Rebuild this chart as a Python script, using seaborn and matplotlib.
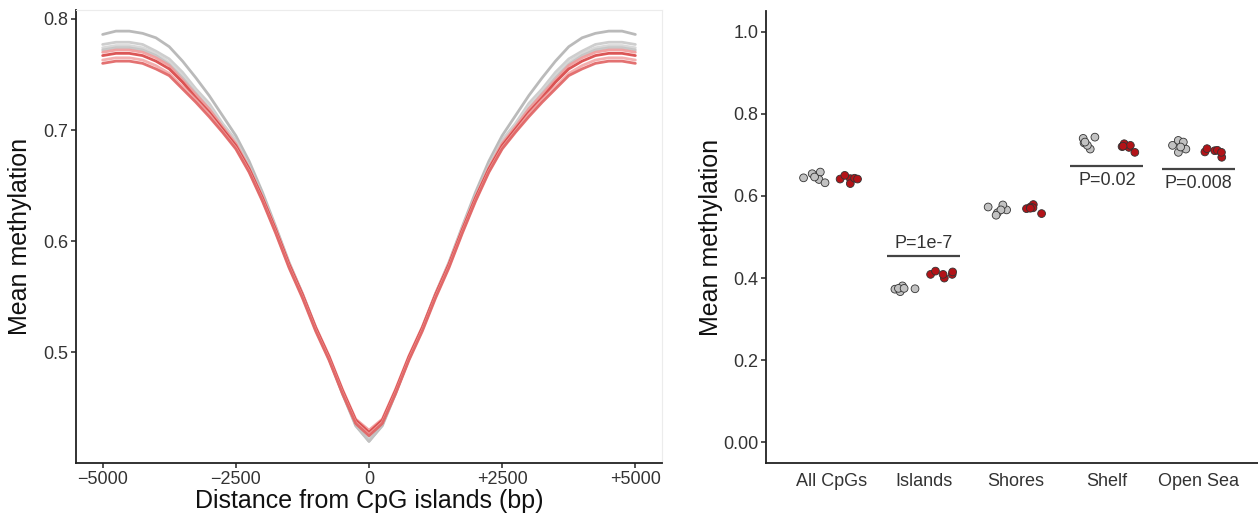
import matplotlib
matplotlib.use("Agg")
import matplotlib.pyplot as plt
import seaborn as sns
import pandas as pd
import numpy as np

sns.set_theme(style="white")
plt.rcParams["font.family"] = ["Liberation Sans", "DejaVu Sans"]

# ---------------- left panel data: methylation profiles around CpG islands ----------------
positions = [-5000, -4750, -4500, -4250, -4000, -3750, -3500, -3250, -3000, -2750, -2500,
             -2250, -2000, -1750, -1500, -1250, -1000, -750, -500, -250, 0,
             250, 500, 750, 1000, 1250, 1500, 1750, 2000, 2250, 2500,
             2750, 3000, 3250, 3500, 3750, 4000, 4250, 4500, 4750, 5000]

ctrl_1 = [0.786, 0.789, 0.789, 0.787, 0.783, 0.775, 0.762, 0.747, 0.731, 0.713, 0.695,
          0.672, 0.644, 0.613, 0.581, 0.553, 0.522, 0.495, 0.463, 0.434, 0.420,
          0.434, 0.463, 0.495, 0.522, 0.553, 0.581, 0.613, 0.644, 0.672, 0.695,
          0.713, 0.731, 0.747, 0.762, 0.775, 0.783, 0.787, 0.789, 0.789, 0.786]
ctrl_2 = [0.777, 0.779, 0.779, 0.777, 0.771, 0.764, 0.752, 0.737, 0.724, 0.706, 0.691,
          0.667, 0.641, 0.612, 0.579, 0.552, 0.522, 0.495, 0.465, 0.436, 0.423,
          0.436, 0.465, 0.495, 0.522, 0.552, 0.579, 0.612, 0.641, 0.667, 0.691,
          0.706, 0.724, 0.737, 0.752, 0.764, 0.771, 0.777, 0.779, 0.779, 0.777]
ctrl_3 = [0.774, 0.776, 0.776, 0.774, 0.769, 0.761, 0.749, 0.735, 0.721, 0.705, 0.689,
          0.667, 0.640, 0.611, 0.579, 0.552, 0.521, 0.495, 0.464, 0.436, 0.422,
          0.436, 0.464, 0.495, 0.521, 0.552, 0.579, 0.611, 0.640, 0.667, 0.689,
          0.705, 0.721, 0.735, 0.749, 0.761, 0.769, 0.774, 0.776, 0.776, 0.774]
ctrl_4 = [0.772, 0.774, 0.774, 0.772, 0.767, 0.759, 0.747, 0.733, 0.719, 0.703, 0.687,
          0.666, 0.639, 0.610, 0.578, 0.551, 0.521, 0.494, 0.464, 0.435, 0.420,
          0.435, 0.464, 0.494, 0.521, 0.551, 0.578, 0.610, 0.639, 0.666, 0.687,
          0.703, 0.719, 0.733, 0.747, 0.759, 0.767, 0.772, 0.774, 0.774, 0.772]
case_1 = [0.770, 0.772, 0.772, 0.770, 0.765, 0.758, 0.745, 0.732, 0.719, 0.703, 0.688,
          0.666, 0.640, 0.611, 0.580, 0.553, 0.523, 0.497, 0.467, 0.440, 0.430,
          0.440, 0.467, 0.497, 0.523, 0.553, 0.580, 0.611, 0.640, 0.666, 0.688,
          0.703, 0.719, 0.732, 0.745, 0.758, 0.765, 0.770, 0.772, 0.772, 0.770]
case_2 = [0.767, 0.769, 0.769, 0.767, 0.762, 0.755, 0.743, 0.729, 0.716, 0.701, 0.686,
          0.665, 0.639, 0.610, 0.579, 0.552, 0.522, 0.496, 0.466, 0.439, 0.428,
          0.439, 0.466, 0.496, 0.522, 0.552, 0.579, 0.610, 0.639, 0.665, 0.686,
          0.701, 0.716, 0.729, 0.743, 0.755, 0.762, 0.767, 0.769, 0.769, 0.767]
case_3 = [0.763, 0.765, 0.765, 0.763, 0.758, 0.751, 0.739, 0.727, 0.714, 0.699, 0.684,
          0.663, 0.637, 0.608, 0.577, 0.550, 0.520, 0.494, 0.464, 0.437, 0.426,
          0.437, 0.464, 0.494, 0.520, 0.550, 0.577, 0.608, 0.637, 0.663, 0.684,
          0.699, 0.714, 0.727, 0.739, 0.751, 0.758, 0.763, 0.765, 0.765, 0.763]
case_4 = [0.760, 0.762, 0.762, 0.760, 0.755, 0.749, 0.737, 0.725, 0.712, 0.698, 0.683,
          0.662, 0.636, 0.607, 0.576, 0.549, 0.519, 0.493, 0.463, 0.436, 0.425,
          0.436, 0.463, 0.493, 0.519, 0.549, 0.576, 0.607, 0.636, 0.662, 0.683,
          0.698, 0.712, 0.725, 0.737, 0.749, 0.755, 0.760, 0.762, 0.762, 0.760]

x_tick_values = [-5000, -2500, 0, 2500, 5000]
x_tick_labels = ["\u22125000", "\u22122500", "0", "+2500", "+5000"]
y_tick_values_left = [0.5, 0.6, 0.7, 0.8]

# ---------------- right panel data: mean methylation per region ----------------
regions = ["All CpGs", "Islands", "Shores", "Shelf", "Open Sea"]
ctrl_all = [0.644, 0.658, 0.654, 0.640, 0.632, 0.646]
case_all = [0.642, 0.641, 0.650, 0.630, 0.643, 0.641]
ctrl_islands = [0.381, 0.373, 0.367, 0.374, 0.375, 0.375]
case_islands = [0.409, 0.409, 0.400, 0.415, 0.417, 0.409]
ctrl_shores = [0.566, 0.573, 0.559, 0.578, 0.566, 0.553]
case_shores = [0.569, 0.579, 0.573, 0.571, 0.570, 0.557]
ctrl_shelf = [0.743, 0.729, 0.714, 0.740, 0.723, 0.731]
case_shelf = [0.718, 0.720, 0.727, 0.723, 0.721, 0.706]
ctrl_opensea = [0.723, 0.714, 0.735, 0.706, 0.731, 0.719]
case_opensea = [0.710, 0.707, 0.715, 0.694, 0.711, 0.706]

pval_regions = ["Islands", "Shelf", "Open Sea"]
pval_labels = ["P=1e-7", "P=0.02", "P=0.008"]
pval_line_y = [0.454, 0.673, 0.665]
pval_text_y = [0.483, 0.638, 0.629]

y_tick_values_right = [0.0, 0.2, 0.4, 0.6, 0.8, 1.0]
y_tick_labels_right = ["0.00", "0.2", "0.4", "0.6", "0.8", "1.0"]

# ---------------- build tidy frames ----------------
line_series = {"ctrl_1": ctrl_1, "ctrl_2": ctrl_2, "ctrl_3": ctrl_3, "ctrl_4": ctrl_4,
               "case_1": case_1, "case_2": case_2, "case_3": case_3, "case_4": case_4}
rows = []
for name, vals in line_series.items():
    for p, v in zip(positions, vals):
        rows.append({"pos": p, "meth": v, "sample": name})
df_lines = pd.DataFrame(rows)

line_colors = {"ctrl_1": "#b3b3b3", "ctrl_2": "#c9c9c9", "ctrl_3": "#d4d4d4", "ctrl_4": "#c2c2c2",
               "case_1": "#f09a9a", "case_2": "#d84444", "case_3": "#f2a8a8", "case_4": "#e06262"}

point_sets = {
    ("All CpGs", "ctrl"): ctrl_all, ("All CpGs", "case"): case_all,
    ("Islands", "ctrl"): ctrl_islands, ("Islands", "case"): case_islands,
    ("Shores", "ctrl"): ctrl_shores, ("Shores", "case"): case_shores,
    ("Shelf", "ctrl"): ctrl_shelf, ("Shelf", "case"): case_shelf,
    ("Open Sea", "ctrl"): ctrl_opensea, ("Open Sea", "case"): case_opensea,
}
prow = []
for (reg, grp), vals in point_sets.items():
    for v in vals:
        prow.append({"region": reg, "group": grp, "meth": v})
df_pts = pd.DataFrame(prow)

# ---------------- figure ----------------
W, H = 1258, 518
fig = plt.figure(figsize=(W / 100, H / 100), dpi=100)
ax1 = fig.add_axes([76 / W, (H - 463) / H, (662 - 76) / W, (463 - 10) / H])
ax2 = fig.add_axes([766 / W, (H - 463) / H, (1258 - 766) / W, (463 - 11) / H])

tick_color = "#333333"

# left panel
sns.lineplot(data=df_lines, x="pos", y="meth", hue="sample", palette=line_colors,
             hue_order=["ctrl_1", "ctrl_2", "ctrl_3", "ctrl_4", "case_1", "case_2", "case_3", "case_4"],
             estimator=None, legend=False, linewidth=2.0, alpha=0.9, ax=ax1)
ax1.set_xlim(-5500, 5500)
ax1.set_ylim(0.4005, 0.808)
ax1.set_xticks(x_tick_values)
ax1.set_xticklabels(x_tick_labels)
ax1.set_yticks(y_tick_values_left)
ax1.set_yticklabels([f"{v:.1f}" for v in y_tick_values_left])
ax1.set_xlabel("Distance from CpG islands (bp)", fontsize=18, color="#111111", labelpad=1)
ax1.set_ylabel("Mean methylation", fontsize=18, color="#111111", labelpad=8)
for s in ["left", "bottom"]:
    ax1.spines[s].set_color("#222222")
    ax1.spines[s].set_linewidth(1.3)
for s in ["top", "right"]:
    ax1.spines[s].set_color("#ececec")
    ax1.spines[s].set_linewidth(0.8)
ax1.tick_params(axis="both", which="both", direction="out", length=3.5, width=1.1,
                color="#222222", labelsize=13, labelcolor=tick_color, pad=2,
                bottom=True, left=True)

# right panel: dodged strip plot with a fixed horizontal jitter
np.random.seed(7)
sns.stripplot(data=df_pts, x="region", y="meth", hue="group", order=regions,
              hue_order=["ctrl", "case"], dodge=True, jitter=0.26,
              palette={"ctrl": "#c2c2c2", "case": "#b31318"},
              size=5.6, edgecolor="#333333", linewidth=0.6, legend=False, ax=ax2)
ax2.set_ylim(-0.05, 1.05)
ax2.set_xlim(-0.72, 4.65)
ax2.set_yticks(y_tick_values_right)
ax2.set_yticklabels(y_tick_labels_right)
ax2.set_xlabel("")
ax2.set_ylabel("Mean methylation", fontsize=18, color="#111111", labelpad=0)
for s in ["top", "right"]:
    ax2.spines[s].set_visible(False)
for s in ["left", "bottom"]:
    ax2.spines[s].set_color("#222222")
    ax2.spines[s].set_linewidth(1.3)
ax2.tick_params(axis="y", direction="out", length=3.5, width=1.1, color="#222222",
                labelsize=13, labelcolor=tick_color, pad=2, left=True)
ax2.tick_params(axis="x", length=0, labelsize=13, labelcolor=tick_color, pad=7, bottom=False)

for reg, lab, ly, ty in zip(pval_regions, pval_labels, pval_line_y, pval_text_y):
    xi = regions.index(reg)
    ax2.plot([xi - 0.4, xi + 0.4], [ly, ly], color="#444444", linewidth=1.6,
             solid_capstyle="butt")
    ax2.text(xi, ty, lab, ha="center", va="center", fontsize=13, color="#333333")

fig.savefig("out.png", dpi=100)
